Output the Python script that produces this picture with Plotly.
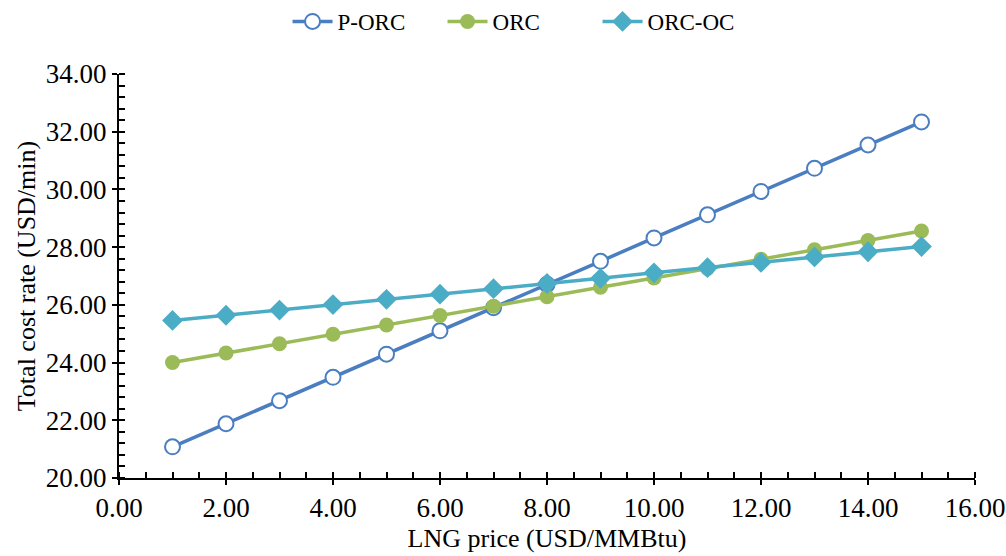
import plotly.graph_objects as go

lng_price = [1, 2, 3, 4, 5, 6, 7, 8, 9, 10, 11, 12, 13, 14, 15]
p_orc = [21.08, 21.88, 22.68, 23.49, 24.29, 25.10, 25.90, 26.71, 27.51, 28.32, 29.12, 29.93, 30.73, 31.54, 32.34]
orc = [24.00, 24.33, 24.65, 24.98, 25.30, 25.63, 25.95, 26.28, 26.61, 26.93, 27.26, 27.58, 27.91, 28.23, 28.56]
orc_oc = [25.46, 25.64, 25.82, 26.01, 26.19, 26.37, 26.56, 26.74, 26.92, 27.11, 27.29, 27.47, 27.66, 27.84, 28.02]

FONT = "Liberation Serif, Times New Roman, serif"
C_P = "#4A7EC1"
C_O = "#9BBB59"
C_OC = "#4BACC6"

fig = go.Figure()
fig.add_trace(go.Scatter(x=lng_price, y=p_orc, name="P-ORC", mode="lines+markers",
                         line=dict(color=C_P, width=3.5),
                         marker=dict(symbol="circle", size=15, color="white",
                                     line=dict(color=C_P, width=2))))
fig.add_trace(go.Scatter(x=lng_price, y=orc, name="ORC", mode="lines+markers",
                         line=dict(color=C_O, width=3.5),
                         marker=dict(symbol="circle", size=15, color=C_O)))
fig.add_trace(go.Scatter(x=lng_price, y=orc_oc, name="ORC-OC", mode="lines+markers",
                         line=dict(color=C_OC, width=3.5),
                         marker=dict(symbol="diamond", size=16, color=C_OC)))
# invisible trace to host inside major ticks
fig.add_trace(go.Scatter(x=[0], y=[20], xaxis="x2", yaxis="y2", mode="markers",
                         marker=dict(opacity=0), showlegend=False, hoverinfo="skip"))

fig.update_layout(
    width=1006, height=556,
    margin=dict(l=119, r=31, t=74, b=78),
    paper_bgcolor="white", plot_bgcolor="white",
    font=dict(family=FONT, size=23, color="black"),
    legend=dict(orientation="h", x=0.4685, xanchor="center", y=1.0, yref="container",
                yanchor="top", font=dict(size=23, family=FONT), itemwidth=40,
                entrywidth=100, tracegroupgap=0),
    xaxis=dict(range=[0, 16], dtick=2, tickformat=".2f", showgrid=False, zeroline=False,
               showline=True, linecolor="black", linewidth=2, automargin=False,
               ticks="outside", ticklen=5, tickwidth=2, tickcolor="black",
               minor=dict(dtick=0.5, ticks="inside", ticklen=6, tickwidth=1.5, tickcolor="black"),
               title=dict(text="LNG price (USD/MMBtu)", font=dict(size=26, family=FONT), standoff=6),
               tickfont=dict(size=27, family=FONT)),
    yaxis=dict(range=[20, 34], dtick=2, tickformat=".2f", showgrid=False, zeroline=False,
               showline=True, linecolor="black", linewidth=2, automargin=False,
               ticks="outside", ticklen=5, tickwidth=2, tickcolor="black",
               minor=dict(dtick=0.4, ticks="inside", ticklen=6, tickwidth=1.5, tickcolor="black"),
               title=dict(text="Total cost rate (USD/min)", font=dict(size=26, family=FONT), standoff=3),
               tickfont=dict(size=27, family=FONT)),
    xaxis2=dict(overlaying="x", range=[0, 16], dtick=2, showgrid=False, zeroline=False,
                showticklabels=False, ticks="inside", ticklen=6, tickwidth=2, tickcolor="black",
                anchor="y2", automargin=False),
    yaxis2=dict(overlaying="y", range=[20, 34], dtick=2, showgrid=False, zeroline=False,
                showticklabels=False, ticks="inside", ticklen=6, tickwidth=2, tickcolor="black",
                anchor="x2", automargin=False),
)

fig.write_html("out.html")
